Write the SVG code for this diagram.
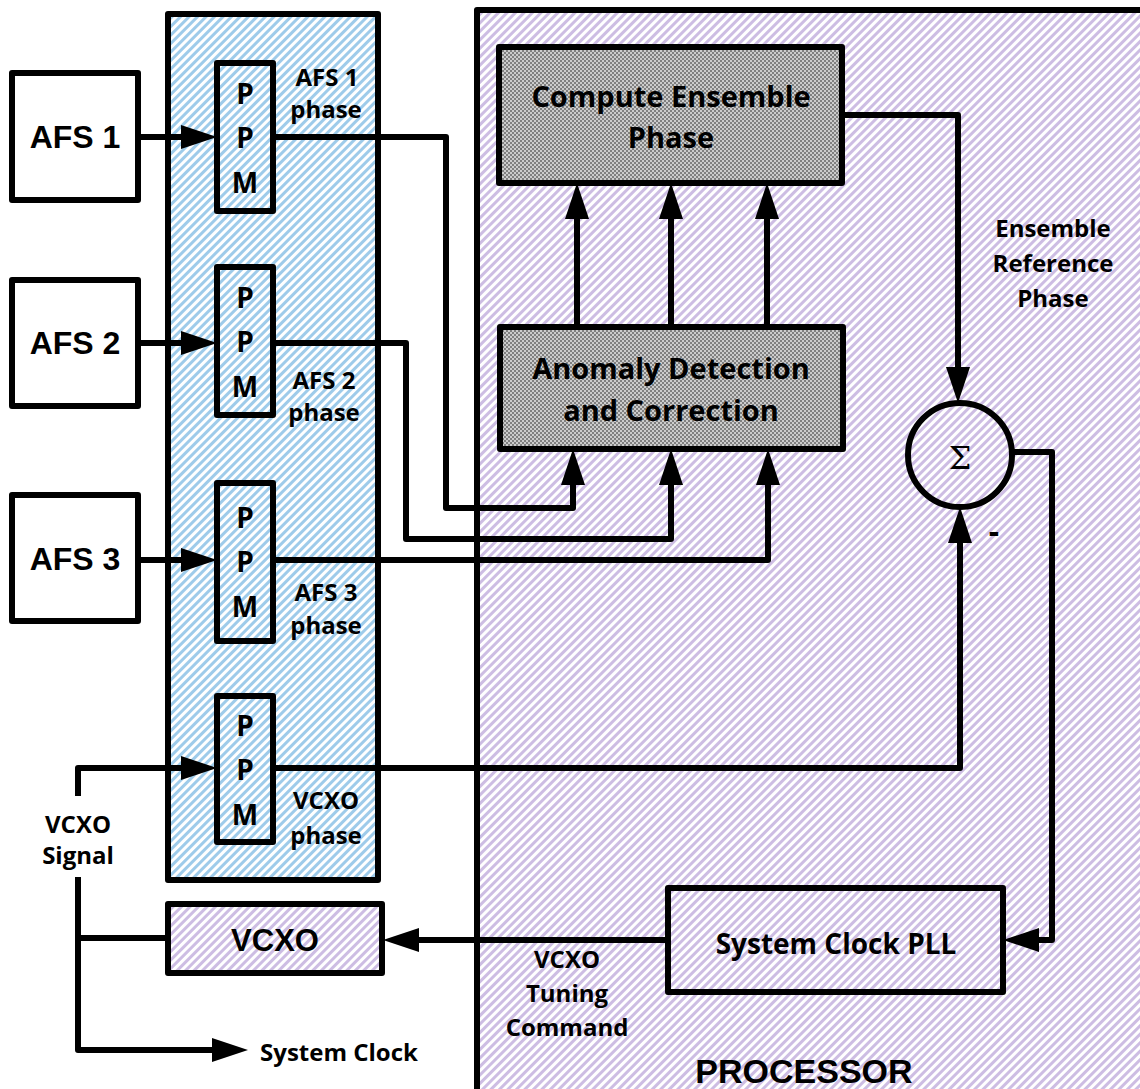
<svg xmlns="http://www.w3.org/2000/svg" width="1140" height="1089" viewBox="0 0 1140 1089">
<defs>
<pattern id="blue" patternUnits="userSpaceOnUse" width="6" height="6" patternTransform="rotate(45)">
<rect width="6" height="6" fill="#ffffff"/><rect width="3" height="6" fill="#9ecbea"/>
</pattern>
<pattern id="purple" patternUnits="userSpaceOnUse" width="6" height="6" patternTransform="rotate(45)">
<rect width="6" height="6" fill="#ffffff"/><rect width="3" height="6" fill="#cdbde3"/>
</pattern>
<pattern id="grey" patternUnits="userSpaceOnUse" width="4" height="4">
<rect width="4" height="4" fill="#cccccc"/><rect width="2" height="2" fill="#808080"/><rect x="2" y="2" width="2" height="2" fill="#808080"/>
</pattern>
<marker id="arr" markerUnits="userSpaceOnUse" markerWidth="37" markerHeight="26" refX="0" refY="13" orient="auto" overflow="visible">
<path d="M0,1 L36,13 L0,25 Z" fill="#000"/>
</marker>
</defs>
<style>
.box{stroke:#000;stroke-width:6;stroke-linejoin:round}
.ln{fill:none;stroke:#000;stroke-width:6;stroke-linejoin:round}
.cal{font-family:"Open Sans","Liberation Sans",sans-serif;font-weight:bold;fill:#000;text-anchor:middle}
.ar{font-family:"Liberation Sans",Arial,sans-serif;font-weight:bold;fill:#000;text-anchor:middle}
</style>
<rect width="1140" height="1089" fill="#ffffff"/>

<g id="processor">
<rect class="box" x="477" y="10" width="680" height="1082" fill="url(#purple)"/>
<text class="ar" x="804" y="1083" font-size="34">PROCESSOR</text>
</g>
<g id="ppm-panel">
<rect class="box" x="168" y="14" width="210" height="866" fill="url(#blue)"/>
</g>

<g id="afs1"><rect class="box" x="12" y="73" width="126" height="127" fill="#fff"/><text class="ar" x="75" y="148" font-size="32">AFS 1</text></g>
<g id="afs2"><rect class="box" x="12" y="280" width="126" height="126" fill="#fff"/><text class="ar" x="75" y="354" font-size="32">AFS 2</text></g>
<g id="afs3"><rect class="box" x="12" y="495" width="126" height="126" fill="#fff"/><text class="ar" x="75" y="570" font-size="32">AFS 3</text></g>

<g id="ppm1"><rect class="box" x="217" y="63" width="56" height="148" fill="url(#blue)"/>
<text class="cal" x="245" y="104" font-size="28">P</text><text class="cal" x="245" y="148" font-size="28">P</text><text class="cal" x="245" y="193" font-size="28">M</text></g>
<g id="ppm2"><rect class="box" x="217" y="267" width="56" height="148" fill="url(#blue)"/>
<text class="cal" x="245" y="308" font-size="28">P</text><text class="cal" x="245" y="352" font-size="28">P</text><text class="cal" x="245" y="397" font-size="28">M</text></g>
<g id="ppm3"><rect class="box" x="217" y="483" width="56" height="158" fill="url(#blue)"/>
<text class="cal" x="245" y="528" font-size="28">P</text><text class="cal" x="245" y="572" font-size="28">P</text><text class="cal" x="245" y="617" font-size="28">M</text></g>
<g id="ppm4"><rect class="box" x="217" y="696" width="56" height="146" fill="url(#blue)"/>
<text class="cal" x="245" y="736" font-size="28">P</text><text class="cal" x="245" y="780" font-size="28">P</text><text class="cal" x="245" y="825" font-size="28">M</text></g>

<g id="labels-phase">
<text class="cal" x="327" y="86" font-size="24">AFS 1</text><text class="cal" x="326" y="118" font-size="24">phase</text>
<text class="cal" x="324" y="389" font-size="24">AFS 2</text><text class="cal" x="324" y="421" font-size="24">phase</text>
<text class="cal" x="326" y="601" font-size="24">AFS 3</text><text class="cal" x="326" y="634" font-size="24">phase</text>
<text class="cal" x="326" y="809" font-size="24">VCXO</text><text class="cal" x="326" y="844" font-size="24">phase</text>
</g>

<g id="compute"><rect class="box" x="499" y="47" width="343" height="136" fill="url(#grey)"/>
<text class="cal" x="671" y="107" font-size="29">Compute Ensemble</text><text class="cal" x="671" y="148" font-size="29">Phase</text></g>
<g id="anomaly"><rect class="box" x="500" y="327" width="343" height="122" fill="url(#grey)"/>
<text class="cal" x="671" y="379" font-size="29">Anomaly Detection</text><text class="cal" x="671" y="421" font-size="29">and Correction</text></g>

<g id="sum"><circle class="box" cx="960" cy="455" r="52" fill="url(#purple)"/>
<text x="960" y="469" font-family="'DejaVu Serif','Liberation Serif',serif" font-size="32" text-anchor="middle" fill="#000">Σ</text></g>

<g id="pll"><rect class="box" x="668" y="888" width="335" height="104" fill="url(#purple)"/>
<text class="cal" x="836" y="954" font-size="28">System Clock PLL</text></g>

<g id="vcxo"><rect class="box" x="168" y="904" width="214" height="69" fill="url(#purple)"/>
<text class="ar" x="275" y="951" font-size="31">VCXO</text></g>

<g id="connectors">
<path class="ln" d="M138,137 H181" marker-end="url(#arr)"/>
<path class="ln" d="M138,343 H181" marker-end="url(#arr)"/>
<path class="ln" d="M138,560 H181" marker-end="url(#arr)"/>
<path class="ln" d="M78,796 V768 H181" marker-end="url(#arr)"/>
<path class="ln" d="M273,137 H446 V508 H573 V485" marker-end="url(#arr)"/>
<path class="ln" d="M273,343 H406 V539 H671 V485" marker-end="url(#arr)"/>
<path class="ln" d="M273,560 H768 V485" marker-end="url(#arr)"/>
<path class="ln" d="M577,327 V219" marker-end="url(#arr)"/>
<path class="ln" d="M671,327 V219" marker-end="url(#arr)"/>
<path class="ln" d="M767,327 V219" marker-end="url(#arr)"/>
<path class="ln" d="M842,115 H958 V367" marker-end="url(#arr)"/>
<path class="ln" d="M273,768 H960 V543" marker-end="url(#arr)"/>
<path class="ln" d="M1012,452 H1052 V940 H1039" marker-end="url(#arr)"/>
<path class="ln" d="M668,940 H419" marker-end="url(#arr)"/>
<path class="ln" d="M168,938 H78"/>
<path class="ln" d="M78,877 V1050 H212" marker-end="url(#arr)"/>
</g>

<g id="labels">
<text class="cal" x="1053" y="237" font-size="24">Ensemble</text>
<text class="cal" x="1053" y="272" font-size="24">Reference</text>
<text class="cal" x="1053" y="307" font-size="24">Phase</text>
<text class="cal" x="994" y="543" font-size="32">-</text>
<text class="cal" x="78" y="833" font-size="24">VCXO</text>
<text class="cal" x="78" y="864" font-size="24">Signal</text>
<text class="cal" x="567" y="968" font-size="24">VCXO</text>
<text class="cal" x="567" y="1002" font-size="24">Tuning</text>
<text class="cal" x="567" y="1036" font-size="24">Command</text>
<text class="cal" x="339" y="1061" font-size="24">System Clock</text>
</g>
</svg>
